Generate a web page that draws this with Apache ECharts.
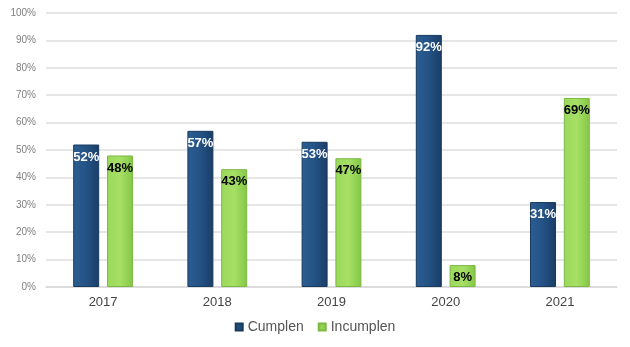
<!DOCTYPE html>
<html><head><meta charset="utf-8">
<script src="https://cdn.jsdelivr.net/npm/echarts@6/dist/echarts.min.js"></script>
<style>html,body{margin:0;padding:0;background:#fff}#c{width:630px;height:347px}</style>
</head><body><div id="c"></div>
<script>
const categories = ['2017','2018','2019','2020','2021'];
const cumplen = [52,57,53,92,31];
const incumplen = [48,43,47,8,69];
const yTicks = [0,10,20,30,40,50,60,70,80,90,100];

const blue = {type:'linear',x:0,y:0,x2:1,y2:0,colorStops:[{offset:0,color:'#2c5e92'},{offset:0.5,color:'#245285'},{offset:1,color:'#1a3d66'}]};
const green = {type:'linear',x:0,y:0,x2:1,y2:0,colorStops:[{offset:0,color:'#9ad85a'},{offset:0.5,color:'#a6e066'},{offset:1,color:'#84c744'}]};

const chart = echarts.init(document.getElementById('c'));
chart.setOption({
  animation:false,
  grid:{left:46,right:13,top:13,bottom:60,containLabel:false},
  legend:{bottom:8,left:'center',itemWidth:7,itemHeight:7,itemGap:14,icon:'rect',
    textStyle:{fontFamily:'Liberation Sans',fontSize:14,color:'#555'},
    data:[{name:'Cumplen',itemStyle:{color:'#1f4e79'}},{name:'Incumplen',itemStyle:{color:'#92d050'}}]},
  xAxis:{type:'category',data:categories,axisTick:{show:false},
    axisLine:{show:true,lineStyle:{color:'#d9d9d9',width:1.5}},
    axisLabel:{fontFamily:'Liberation Sans',fontSize:13,color:'#444',margin:9}},
  yAxis:{type:'value',min:0,max:100,interval:10,
    axisLabel:{formatter:v=>yTicks.includes(v)?v+'%':'',fontFamily:'Liberation Sans',fontSize:10,color:'#7f7f7f',margin:10},
    splitLine:{lineStyle:{color:'#dedede',width:1.5}},axisLine:{show:false},axisTick:{show:false}},
  series:[
    {name:'Cumplen',type:'bar',data:cumplen,barWidth:26,barGap:'30%',
     itemStyle:{color:blue,borderColor:'#173a5e',borderWidth:1},
     label:{show:true,position:'insideTop',distance:6,formatter:'{c}%',color:'#fff',fontWeight:'bold',fontFamily:'Liberation Sans',fontSize:13}},
    {name:'Incumplen',type:'bar',data:incumplen,barWidth:26,
     itemStyle:{color:green,borderColor:'#7cb944',borderWidth:1},
     label:{show:true,position:'insideTop',distance:6,formatter:'{c}%',color:'#000',fontWeight:'bold',fontFamily:'Liberation Sans',fontSize:13}}
  ]
});
</script></body></html>
